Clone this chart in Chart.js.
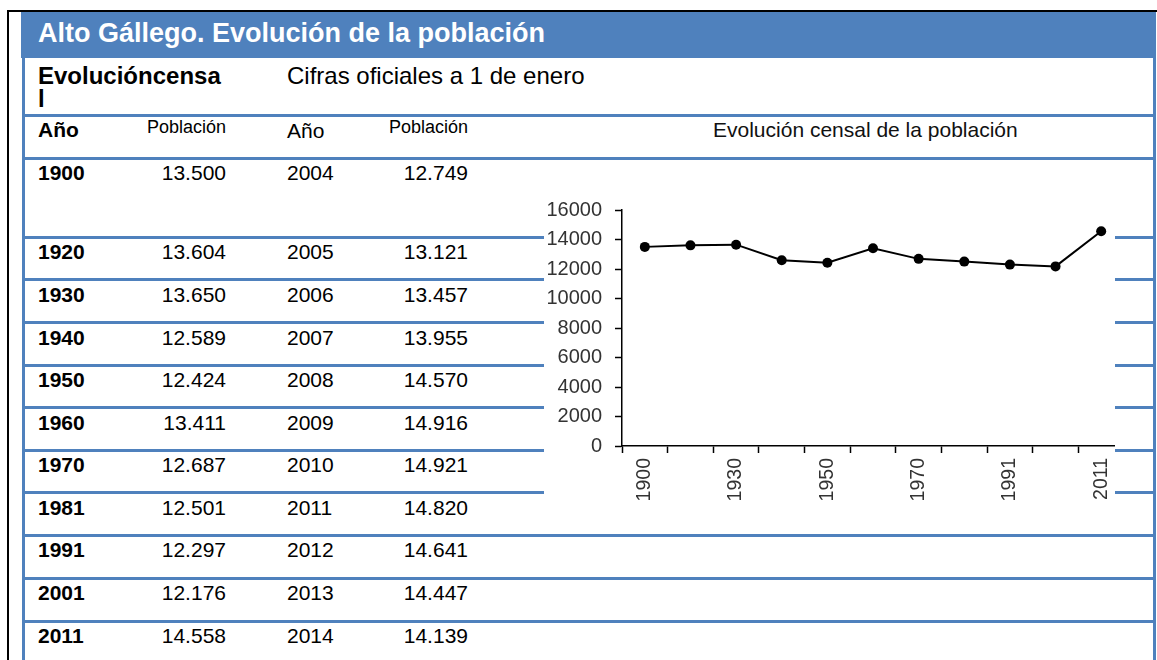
<!DOCTYPE html>
<html>
<head>
<meta charset="utf-8">
<script src="https://cdn.jsdelivr.net/npm/chart.js@4.4.1/dist/chart.umd.min.js"></script>
<style>
  html, body { margin: 0; padding: 0; background: #fff; }
  #page { position: relative; width: 1157px; height: 660px; overflow: hidden; background: #fff;
          font-family: "Liberation Sans", Arial, sans-serif; color: #000; }
  .abs { position: absolute; }
  .t { position: absolute; white-space: nowrap; }
  #chartWrap { position: absolute; left: 544px; top: 185px; width: 571px; height: 320px; overflow: hidden; background: #fff; }
  #chartBox { position: absolute; left: 0; top: 0; width: 600px; height: 320px; }
</style>
</head>
<body>
<div id="page">
  <div id="chartWrap"><div id="chartBox"><canvas id="c"></canvas></div></div>
</div>
<script>
// ---- data ----
const censusYears = ['1900','1920','1930','1940','1950','1960','1970','1981','1991','2001','2011'];
const censusPop   = [13500, 13604, 13650, 12589, 12424, 13411, 12687, 12501, 12297, 12176, 14558];
const annualYears = ['2004','2005','2006','2007','2008','2009','2010','2011','2012','2013','2014'];
const annualPop   = [12749, 13121, 13457, 13955, 14570, 14916, 14921, 14820, 14641, 14447, 14139];
const yMin = 0, yMax = 16000, yStep = 2000;

const pageTitle = 'Alto Gállego. Evolución de la población';
const censusHeading = ['Evolucióncensa', 'l'];
const officialHeading = 'Cifras oficiales a 1 de enero';
const colYear = 'Año';
const colPop = 'Población';
const chartTitle = 'Evolución censal de la población';

// ---- layout helpers ----
const page = document.getElementById('page');
const BLUE = '#4F81BD';
function rect(x, y, w, h, color) {
  const d = document.createElement('div');
  d.className = 'abs';
  Object.assign(d.style, { left: x + 'px', top: y + 'px', width: w + 'px', height: h + 'px', background: color });
  page.insertBefore(d, page.firstChild);
  return d;
}
function txt(s, x, baseline, size, opt = {}) {
  const d = document.createElement('div');
  d.className = 't';
  d.textContent = s;
  const top = baseline - 0.8465 * size;
  d.style.top = top + 'px';
  d.style.fontSize = size + 'px';
  d.style.lineHeight = size + 'px';
  if (opt.bold) d.style.fontWeight = 'bold';
  if (opt.color) d.style.color = opt.color;
  if (opt.right) { d.style.left = (x - 300) + 'px'; d.style.width = '300px'; d.style.textAlign = 'right'; }
  else d.style.left = x + 'px';
  page.appendChild(d);
  return d;
}
function fmt(n) { return String(n).replace(/\B(?=(\d{3})+(?!\d))/g, '.'); }

// borders
rect(7, 10, 1150, 2, '#000');
rect(7, 10, 2, 650, '#000');
rect(21, 12, 1135, 46, BLUE);
rect(22, 58, 3, 602, BLUE);
rect(1153, 12, 3, 648, BLUE);
const hLines = [115.5, 158, 237, 279.5, 322.5, 365, 407.5, 450, 492.5, 535, 578, 621];
hLines.forEach(c => rect(22, Math.round(c - 1.5), 1134, 3, BLUE));

// header texts
txt(pageTitle, 38, 43, 27, { bold: true, color: '#fff' });
txt(censusHeading[0], 38, 84, 24, { bold: true });
txt(censusHeading[1], 38, 107, 24, { bold: true });
txt(officialHeading, 287, 84, 24);
txt(colYear, 38, 137, 21, { bold: true });
txt(colPop, 226, 133.5, 18, { right: true });
txt(colYear, 287, 137.5, 21);
txt(colPop, 468, 133.5, 18, { right: true });
txt(chartTitle, 713, 137, 21, { color: '#111' });

// data rows
censusYears.forEach((y, i) => {
  const b = hLines[i + 1] + 22;
  txt(y, 38, b, 21, { bold: true });
  txt(fmt(censusPop[i]), 226, b, 21, { right: true });
  txt(annualYears[i], 287, b, 21);
  txt(fmt(annualPop[i]), 468, b, 21, { right: true });
});

// ---- chart ----
const FONT = '"Liberation Sans", Arial, sans-serif';
new Chart(document.getElementById('c'), {
  type: 'line',
  data: {
    labels: censusYears,
    datasets: [{
      data: censusPop,
      borderColor: '#000',
      borderWidth: 2,
      pointRadius: 5,
      pointBackgroundColor: '#000',
      pointBorderColor: '#000',
      pointBorderWidth: 0,
      tension: 0,
      fill: false
    }]
  },
  options: {
    responsive: true,
    maintainAspectRatio: false,
    devicePixelRatio: 1,
    animation: false,
    layout: { padding: { top: 22, right: 20, left: 0, bottom: 0 } },
    plugins: { legend: { display: false }, title: { display: false }, tooltip: { enabled: false } },
    scales: {
      x: {
        type: 'category',
        offset: true,
        grid: { offset: true, drawOnChartArea: false, drawTicks: true, tickLength: 7, tickColor: '#000', tickWidth: 1.5 },
        border: { display: true, color: '#000', width: 1.5 },
        ticks: {
          autoSkip: false, minRotation: 90, maxRotation: 90, padding: 5,
          color: '#333', font: { family: FONT, size: 19.5 },
          callback: (v, i) => (i % 2 === 0 ? censusYears[i] : '')
        },
        afterFit: s => { s.height = 59; }
      },
      y: {
        min: yMin, max: yMax,
        grid: { drawOnChartArea: false, drawTicks: true, tickLength: 7, tickColor: '#000', tickWidth: 1.5 },
        border: { display: true, color: '#000', width: 1.5 },
        ticks: { stepSize: yStep, padding: 13, color: '#333', font: { family: FONT, size: 20 },
                 callback: v => String(v) },
        afterFit: s => { s.width = 78; }
      }
    }
  }
});
</script>
</body>
</html>
